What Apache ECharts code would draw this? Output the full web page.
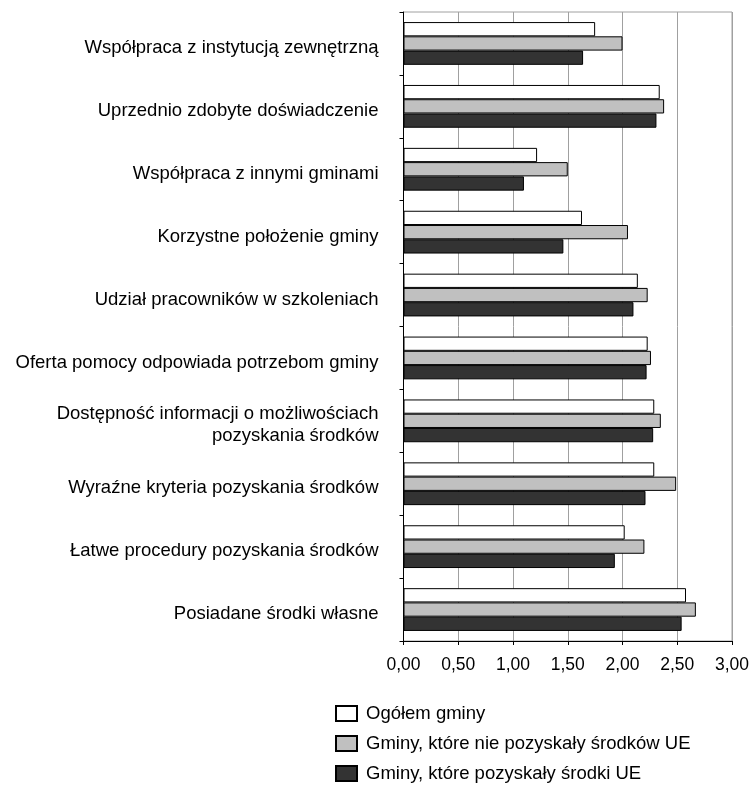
<!DOCTYPE html>
<html>
<head>
<meta charset="utf-8">
<script src="https://cdn.jsdelivr.net/npm/echarts@6/dist/echarts.min.js"></script>
<style>
html,body{margin:0;padding:0;background:#fff;}
#chart{width:755px;height:785px;}
</style>
</head>
<body>
<div id="chart"></div>
<script>
const categories = [
  "Współpraca z instytucją zewnętrzną",
  "Uprzednio zdobyte doświadczenie",
  "Współpraca z innymi gminami",
  "Korzystne położenie gminy",
  "Udział pracowników w szkoleniach",
  "Oferta pomocy odpowiada potrzebom gminy",
  "Dostępność informacji o możliwościach\npozyskania środków",
  "Wyraźne kryteria pozyskania środków",
  "Łatwe procedury pozyskania środków",
  "Posiadane środki własne"
];
const seriesNames = [
  "Ogółem gminy",
  "Gminy, które nie pozyskały środków UE",
  "Gminy, które pozyskały środki UE"
];
const ogolem   = [1.75, 2.34, 1.22, 1.63, 2.14, 2.23, 2.29, 2.29, 2.02, 2.58];
const niePoz   = [2.00, 2.38, 1.50, 2.05, 2.23, 2.26, 2.35, 2.49, 2.20, 2.67];
const pozysk   = [1.64, 2.31, 1.10, 1.46, 2.10, 2.22, 2.28, 2.21, 1.93, 2.54];
const xTicks = { min: 0, max: 3, interval: 0.5 };

const colors = ['#ffffff', '#c0c0c0', '#333333'];
const values = [ogolem, niePoz, pozysk];

const chart = echarts.init(document.getElementById('chart'), null, {renderer: 'canvas'});
const font = 'Liberation Sans, Arial, sans-serif';
chart.setOption({
  animation: false,
  backgroundColor: '#fff',
  textStyle: { fontFamily: font },
  grid: {
    left: 403.5, right: 23, top: 12, bottom: 144,
    show: true, borderColor: '#a0a0a0', borderWidth: 1, backgroundColor: 'transparent'
  },
  legend: {
    orient: 'vertical',
    left: 335, top: 704,
    padding: 0,
    height: 95,
    icon: 'rect',
    itemWidth: 21, itemHeight: 15, itemGap: 11,
    textStyle: { fontSize: 18.5, color: '#000', fontFamily: font, padding: [0,0,0,4] },
    data: seriesNames
  },
  xAxis: {
    type: 'value',
    min: xTicks.min, max: xTicks.max, interval: xTicks.interval,
    axisLine: { show: true, lineStyle: { color: '#000', width: 1 } },
    axisTick: { show: true, length: 4, lineStyle: { color: '#000' } },
    splitLine: { show: true, lineStyle: { color: '#a0a0a0', width: 1 } },
    axisLabel: {
      fontSize: 17.5, color: '#000', fontFamily: font, margin: 15,
      formatter: v => v.toFixed(2).replace('.', ',')
    }
  },
  yAxis: {
    type: 'category',
    inverse: true,
    data: categories,
    axisLine: { show: true, lineStyle: { color: '#000', width: 1 } },
    axisTick: { show: true, length: 4, lineStyle: { color: '#000' } },
    axisLabel: {
      color: '#000', margin: 25, align: 'right',
      formatter: v => v.split('\n').map(s => '{a|' + s + '}').join('\n'),
      rich: {
        a: { fontSize: 18.5, color: '#000', fontFamily: font, lineHeight: 22, align: 'right' }
      },
      padding: [9, 0, 0, 0]
    },
    splitLine: { show: false }
  },
  series: values.map((vals, i) => ({
    name: seriesNames[i],
    type: 'bar',
    data: vals,
    barGap: '0%',
    barCategoryGap: '32%',
    itemStyle: { color: colors[i], borderColor: '#000', borderWidth: 1 }
  }))
});
</script>
</body>
</html>
